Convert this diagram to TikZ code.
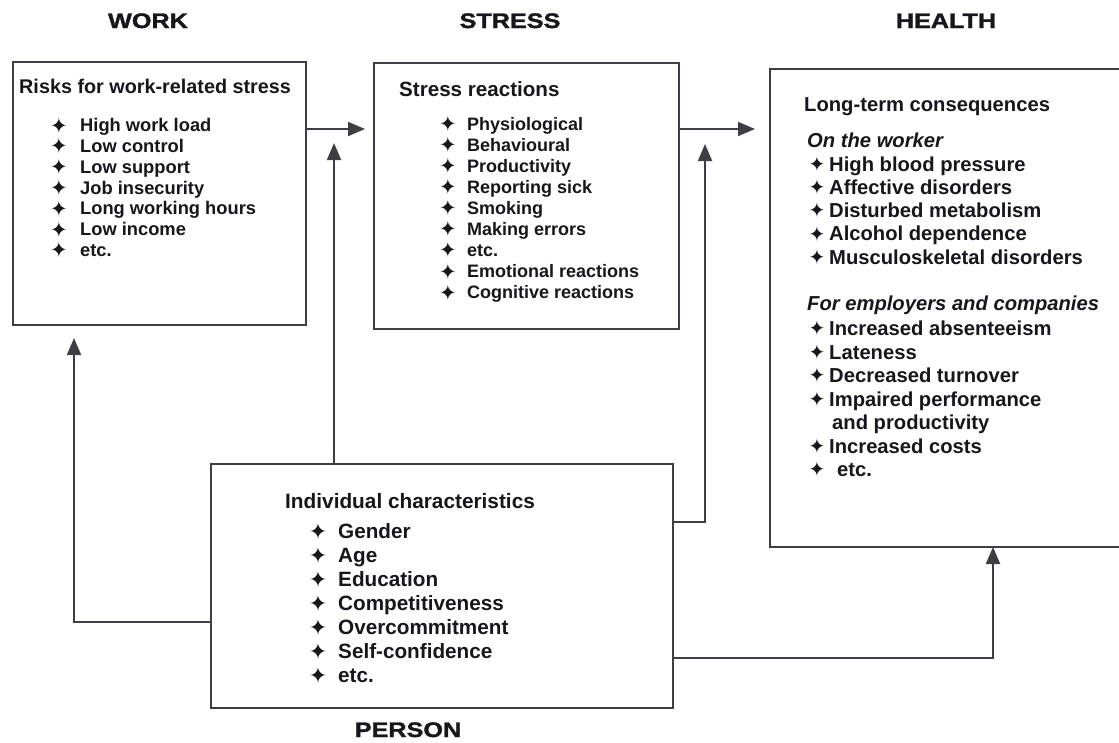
\documentclass[tikz,border=0pt]{standalone}
\usepackage{fontspec}
\setmainfont{Liberation Sans}
\newfontfamily\symfont{DejaVu Sans}
\newfontfamily\titlefont{Liberation Sans}[FakeStretch=1.2,BoldFeatures={FakeStretch=1.2,FakeBold=1.5}]
\usetikzlibrary{arrows.meta}
\definecolor{linegray}{RGB}{62,62,68}
\definecolor{ink}{RGB}{22,22,28}
\begin{document}
\begin{tikzpicture}[x=1pt,y=-1pt,
  box/.style={draw=linegray,line width=2pt,rectangle,inner sep=0pt,outer sep=0pt,anchor=north west},
  arr/.style={draw=linegray,line width=1.8pt,-{Triangle[length=17pt,width=14pt]}},
  title/.style={anchor=base,inner sep=0pt,text=ink,font=\titlefont\bfseries\fontsize{21}{24}\selectfont},
  head/.style={anchor=base west,inner sep=0pt,text=ink,font=\bfseries\fontsize{#1}{#1}\selectfont},
  itm/.style={anchor=base west,inner sep=0pt,text=ink,font=\bfseries\fontsize{#1}{#1}\selectfont},
  bul/.style={anchor=center,inner sep=0pt,text=ink,font=\symfont\fontsize{#1}{#1}\selectfont}]
\useasboundingbox (0,0) rectangle (1119,742);
\clip (0,0) rectangle (1119,742);
\fill[white] (0,0) rectangle (1119,742);

% titles
\node[title] (tw) at (148,28) {WORK};
\node[title] (ts) at (510,28) {STRESS};
\node[title] (th) at (946,28) {HEALTH};
\node[title] (tp) at (408,737) {PERSON};

% boxes
\node[box,minimum width=293pt,minimum height=263pt] (b1) at (13,62) {};
\node[box,minimum width=305pt,minimum height=266pt] (b2) at (374,63) {};
\node[box,minimum width=370pt,minimum height=478pt] (b3) at (770,69) {};
\node[box,minimum width=462pt,minimum height=244pt] (b4) at (211,464) {};

% box 1
\node[head=19.8] (h1) at (19,93) {Risks for work-related stress};
\foreach \t [count=\i from 0] in {High work load,Low control,Low support,Job insecurity,Long working hours,Low income,etc.}{
  \node[bul=21] (p1b\i) at (59,{131.7+20.8*\i-6.3}) {✦};
  \node[itm=18.3] (p1t\i) at (80,{131.7+20.8*\i}) {\t};
}

% box 2
\node[head=20.6] (h2) at (399,96.7) {Stress reactions};
\foreach \t [count=\i from 0] in {Physiological,Behavioural,Productivity,Reporting sick,Smoking,Making errors,etc.,Emotional reactions,Cognitive reactions}{
  \node[bul=21] (p2b\i) at (448,{130+21.1*\i-6.3}) {✦};
  \node[itm=18] (p2t\i) at (467,{130+21.1*\i}) {\t};
}

% box 3
\node[head=20.2] (h3) at (804,111.7) {Long-term consequences};
\node[itm=20.2,font=\bfseries\itshape\fontsize{20.2}{20.2}\selectfont] (s3a) at (807,147) {On the worker};
\foreach \t [count=\i from 0] in {High blood pressure,Affective disorders,Disturbed metabolism,Alcohol dependence,Musculoskeletal disorders}{
  \node[bul=20] (p3b\i) at (817,{171+23.3*\i-7}) {✦};
  \node[itm=20.2] (p3t\i) at (829,{171+23.3*\i}) {\t};
}
\node[itm=20.2,font=\bfseries\itshape\fontsize{20.2}{20.2}\selectfont] (s3b) at (807,310) {For employers and companies};
\foreach \t/\y [count=\i from 0] in {Increased absenteeism/335,Lateness/359,Decreased turnover/382.5,Impaired performance/406,Increased costs/453}{
  \node[bul=20] (p3c\i) at (817,{\y-7}) {✦};
  \node[itm=20.2] (p3d\i) at (829,\y) {\t};
}
\node[itm=20.2] (p3e) at (832,429.5) {and productivity};
\node[bul=20] (p3f) at (817,{476.5-7}) {✦};
\node[itm=20.2] (p3g) at (837,476.5) {etc.};

% box 4
\node[head=20.8] (h4) at (285,508) {Individual characteristics};
\foreach \t [count=\i from 0] in {Gender,Age,Education,Competitiveness,Overcommitment,Self-confidence,etc.}{
  \node[bul=22] (p4b\i) at (318,{538.3+24*\i-7}) {✦};
  \node[itm=20.7] (p4t\i) at (338,{538.3+24*\i}) {\t};
}

% connectors
\coordinate (k1) at (365,129);
\coordinate (k2) at (755,129);
\coordinate (k3) at (334,143);
\coordinate (k4) at (705,522);
\coordinate (k4t) at (705,144);
\coordinate (k5) at (74,622);
\coordinate (k5t) at (74,338);
\coordinate (k6) at (993,658);

\draw[arr] (b1.east |- k1) -- (k1);
\draw[arr] (b2.east |- k2) -- (k2);
\draw[arr] (b4.north -| k3) -- (k3);
\draw[arr] (b4.east |- k4) -- (k4) -- (k4t);
\draw[arr] (b4.west |- k5) -- (k5) -- (k5t);
\draw[arr] (b4.east |- k6) -- (k6) -- (k6 |- b3.south);
\end{tikzpicture}
\end{document}
